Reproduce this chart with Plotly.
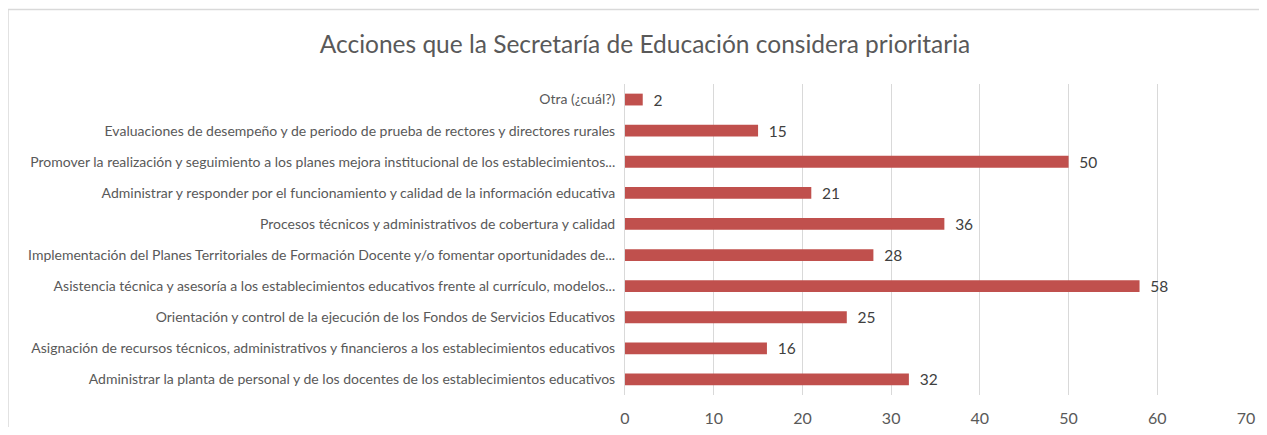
import plotly.graph_objects as go

categories = [
    "Administrar la planta de personal y de los docentes de los establecimientos educativos",
    "Asignación de recursos técnicos, administrativos y financieros a los establecimientos educativos",
    "Orientación y control de la ejecución de los Fondos de Servicios Educativos",
    "Asistencia técnica y asesoría a los establecimientos educativos frente al currículo, modelos...",
    "Implementación del Planes Territoriales de Formación Docente y/o fomentar oportunidades de...",
    "Procesos técnicos y administrativos de cobertura y calidad",
    "Administrar y responder por el funcionamiento y calidad de la información educativa",
    "Promover la realización y seguimiento a los planes mejora institucional de los establecimientos...",
    "Evaluaciones de desempeño y de periodo de prueba de rectores y directores rurales",
    "Otra (¿cuál?)",
]
values = [32, 16, 25, 58, 28, 36, 21, 50, 15, 2]
x_ticks = [0, 10, 20, 30, 40, 50, 60, 70]

OFF = 8  # page body margin
W, H = 1267 - 2 * OFF, 435 - 2 * OFF
L, R, T = 625 - OFF, 1267 - 1246 - OFF, 84 - OFF
B = H - (395 - OFF)
pw, ph = W - L - R, H - T - B

fig = go.Figure(go.Bar(
    y=categories, x=values, orientation="h",
    marker=dict(color="#C0504D", line=dict(width=0)),
    text=["\u2002" + str(v) for v in values], textposition="outside",
    constraintext="none",
    textfont=dict(size=15.5, color="#404040", family="Lato"),
    cliponaxis=False, width=0.38,
))

# left and top border lines of the chart frame (paper coords)
bx0 = (8 - 625) / pw
bx1 = (1267 + 5 - 625) / pw
by0 = (395 - 450) / ph
by1 = (395 - 9.5) / ph

fig.update_layout(
    width=W, height=H,
    margin=dict(l=L, r=R, t=T, b=B, pad=0, autoexpand=False),
    paper_bgcolor="white", plot_bgcolor="white",
    font=dict(family="Lato", color="#595959", size=14),
    title=dict(text="Acciones que la Secretaría de Educación considera prioritaria",
               x=(645 - OFF) / W, xanchor="center", y=1 - (44 - OFF) / H, yanchor="middle",
               font=dict(size=24.5, color="#595959", family="Lato")),
    showlegend=False,
    bargap=0.6,
    xaxis=dict(range=[0, 70], tickvals=x_ticks, showgrid=True, gridcolor="#D9D9D9",
               gridwidth=1, zeroline=False, showline=False, ticks="",
               ticklabelstandoff=12,
               tickfont=dict(size=16, color="#595959"), fixedrange=True,
               automargin=False),
    yaxis=dict(showline=True, linecolor="#D9D9D9", linewidth=1, ticks="",
               ticklabelstandoff=6, tickfont=dict(size=14, color="#595959"),
               automargin=False),
    shapes=[dict(type="path", xref="paper", yref="paper",
                 path=f"M {bx0} {by0} L {bx0} {by1} L {bx1} {by1}",
                 line=dict(color="#D9D9D9", width=1.5), layer="below")],
)

fig.write_html("out.html")
